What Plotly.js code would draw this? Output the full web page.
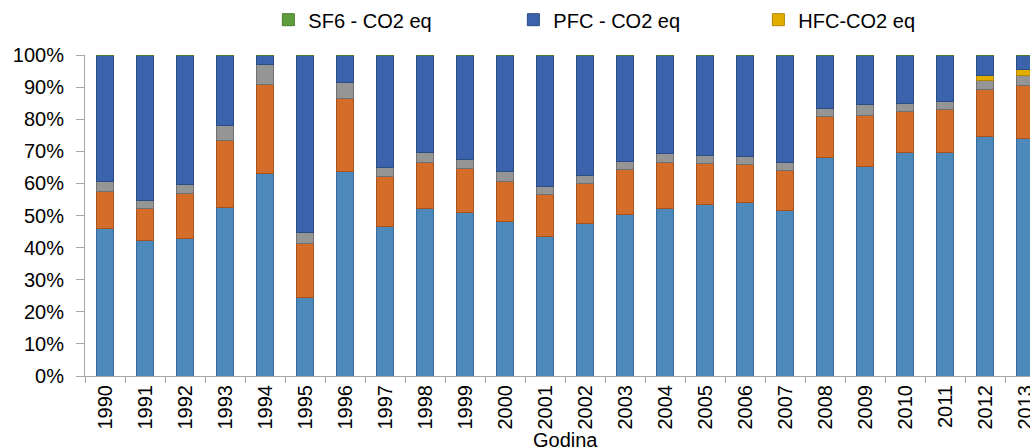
<!DOCTYPE html>
<html>
<head>
<meta charset="utf-8">
<script src="https://cdn.plot.ly/plotly-3.0.1.min.js"></script>
<style>
html,body{margin:0;padding:0;overflow:hidden;background:#fff;}
#chart{width:1050px;height:448px;}
</style>
</head>
<body>
<div id="chart"></div>
<script>
const years = ['1990','1991','1992','1993','1994','1995','1996','1997','1998','1999','2000','2001','2002','2003','2004','2005','2006','2007','2008','2009','2010','2011','2012','2013'];
const co2 = [46.0,42.1,42.8,52.6,63.1,24.4,63.7,46.6,52.2,50.9,48.0,43.4,47.6,50.4,52.1,53.3,53.9,51.5,68.1,65.4,69.5,69.7,74.5,74.1];
const ch4 = [11.6,10.1,13.9,20.8,27.8,16.8,22.7,15.4,14.3,13.7,12.7,13.0,12.5,13.8,14.4,12.8,12.1,12.6,12.6,15.9,13.0,13.3,14.8,16.3];
const n2o = [2.9,2.4,3.1,4.5,6.0,3.5,4.9,3.1,3.0,3.0,2.9,2.7,2.5,2.7,2.8,2.5,2.4,2.3,2.5,3.3,2.4,2.6,2.8,3.2];
const hfc = [0,0,0,0,0,0,0,0,0,0,0,0,0,0,0,0,0,0,0,0,0,0,1.6,1.9];
const pfc = [39.3,45.2,40.0,21.9,2.9,55.1,8.5,34.7,30.3,32.2,36.2,40.7,37.2,32.9,30.5,31.2,31.4,33.4,16.6,15.2,14.9,14.2,6.1,4.3];
const sf6 = [0.2,0.2,0.2,0.2,0.2,0.2,0.2,0.2,0.2,0.2,0.2,0.2,0.2,0.2,0.2,0.2,0.2,0.2,0.2,0.2,0.2,0.2,0.2,0.2];
const yTickVals = [0,10,20,30,40,50,60,70,80,90,100];
const yTickText = ['0%','10%','20%','30%','40%','50%','60%','70%','80%','90%','100%'];

function bar(name, y, fill, line, show){
  return {type:'bar', x:years, y:y, name:name, showlegend:show,
    marker:{color:fill, line:{color:line, width:1}}, hoverinfo:'skip'};
}
const traces = [
  bar('CO2', co2, '#4e89bc', '#3a6b96', false),
  bar('CH4 - CO2 eq', ch4, '#d46d29', '#a9521c', false),
  bar('N2O - CO2 eq', n2o, '#959595', '#707070', false),
  bar('HFC-CO2 eq', hfc, '#e3ad00', '#b08600', true),
  bar('PFC - CO2 eq', pfc, '#3b63ab', '#2c4c86', true),
  bar('SF6 - CO2 eq', sf6, '#5f9c3b', '#4a7c2e', true)
];
const font = {family:'Liberation Sans, Arial, sans-serif', size:20, color:'#000'};
const layout = {
  width:1050, height:448,
  margin:{l:85, r:5, t:55, b:72, autoexpand:false},
  barmode:'stack', barnorm:'percent', bargap:0.575,
  paper_bgcolor:'#fff', plot_bgcolor:'#fff',
  font:font,
  showlegend:true,
  legend:{orientation:'h', traceorder:'reversed', x:0.191, xanchor:'left', y:1.11, yanchor:'middle',
    entrywidth:200, entrywidthmode:'pixels', font:font, itemclick:false, tracegroupgap:0},
  xaxis:{type:'category', tickangle:-90, showline:true, linecolor:'#a6a6a6', linewidth:1,
    ticks:'outside', tickson:'boundaries', ticklen:6, tickcolor:'#a6a6a6',
    showgrid:false, zeroline:false, tickfont:font, range:[-0.5,23.5]},
  yaxis:{range:[0,100], tickmode:'array', tickvals:yTickVals, ticktext:yTickText,
    showline:true, linecolor:'#a6a6a6', linewidth:1, ticks:'outside', ticklen:8, tickcolor:'#a6a6a6',
    ticklabelstandoff:8,
    showgrid:false, zeroline:false, tickfont:font},
  annotations:[{text:'Godina', xref:'paper', yref:'paper', x:0.5, y:-0.198, xanchor:'center', yanchor:'middle',
    showarrow:false, font:font}]
};
Plotly.newPlot('chart', traces, layout, {staticPlot:true, displayModeBar:false});
</script>
</body>
</html>
